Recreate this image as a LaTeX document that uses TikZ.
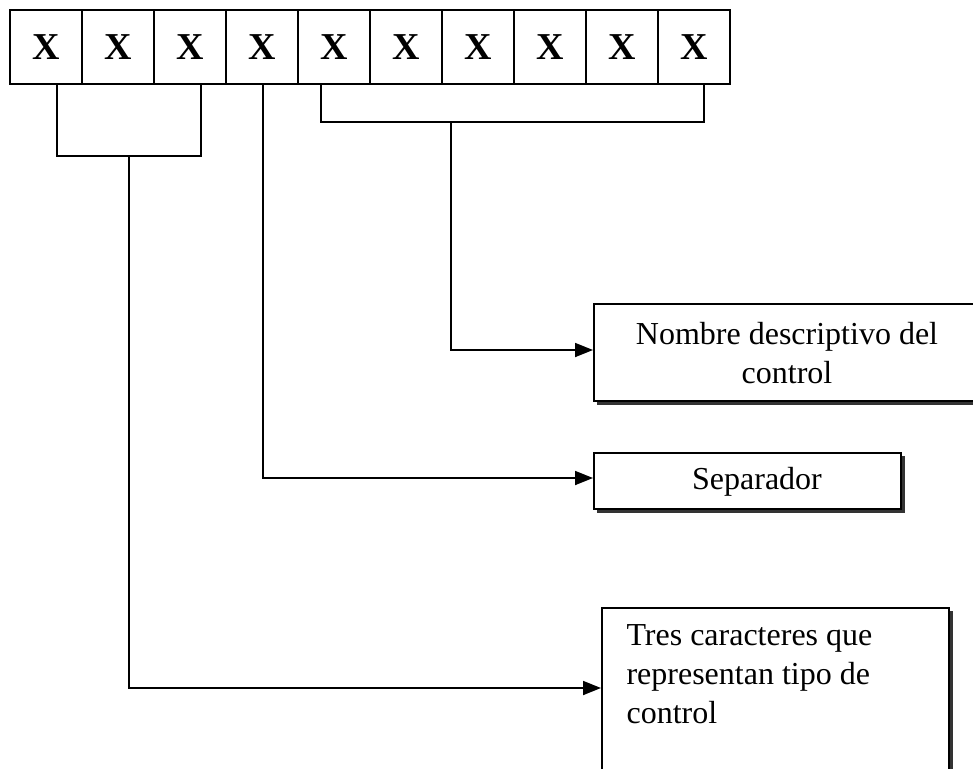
\documentclass[tikz,border=0pt]{standalone}
\usepackage{fontspec}
\setmainfont{Liberation Serif}
\usetikzlibrary{arrows.meta}
\begin{document}
\begin{tikzpicture}[x=1pt,y=-1pt,
  cell/.style={draw, line width=1.8pt, minimum width=72pt, minimum height=74pt, inner sep=0pt,
    font=\fontsize{38}{40}\selectfont\bfseries},
  conn/.style={line width=1.8pt},
  arr/.style={line width=1.8pt, -{Triangle[length=18pt,width=14pt]}},
  txtbox/.style={draw, line width=1.8pt, fill=white, inner sep=0pt},
  shadow/.style={fill=black!80, draw=none},
  lbl/.style={font=\fontsize{32}{39}\selectfont, align=center}
]
\useasboundingbox (0,0) rectangle (973,768);
\clip (0,0) rectangle (973,768);
% cells
\foreach \i in {1,...,10} {
  \node[cell] (c\i) at ({10+72*(\i-0.5)},47) {X};
}
% brackets
\coordinate (b1) at (57,84);
\coordinate (b1d) at (57,156);
\coordinate (b3) at (201,84);
\coordinate (b3d) at (201,156);
\coordinate (s1) at (129,156);
\draw[conn] (b1) -- (b1d) -- (b3d) -- (b3);
\coordinate (b4) at (263,84);
\coordinate (b5) at (321,84);
\coordinate (b5d) at (321,122);
\coordinate (b10) at (704,84);
\coordinate (b10d) at (704,122);
\coordinate (s3) at (451,122);
\draw[conn] (b5) -- (b5d) -- (b10d) -- (b10);
% boxes with shadows
\fill[shadow] (597,307) rectangle (985,405);
\node[txtbox, minimum width=388pt, minimum height=97pt, anchor=north west] (nom) at (593,303) {};
\node[lbl] at (787,353) {Nombre descriptivo del\\control};
\fill[shadow] (597,456) rectangle (905,513);
\node[txtbox, minimum width=307pt, minimum height=56pt, anchor=north west] (sep) at (593,452) {};
\node[lbl] at (757,482) {Separador};
\fill[shadow] (605,611) rectangle (953,800);
\node[txtbox, minimum width=347pt, minimum height=190pt, anchor=north west] (tres) at (601,607) {};
\node[lbl, align=left, anchor=north west] at (623,621) {Tres caracteres que\\representan tipo de\\control};
% connectors
\draw[arr] (s3) |- (nom.west |- 0,350);
\draw[arr] (b4) |- (sep.west |- 0,478);
\draw[arr] (s1) |- (tres.west |- 0,688);
\end{tikzpicture}
\end{document}
